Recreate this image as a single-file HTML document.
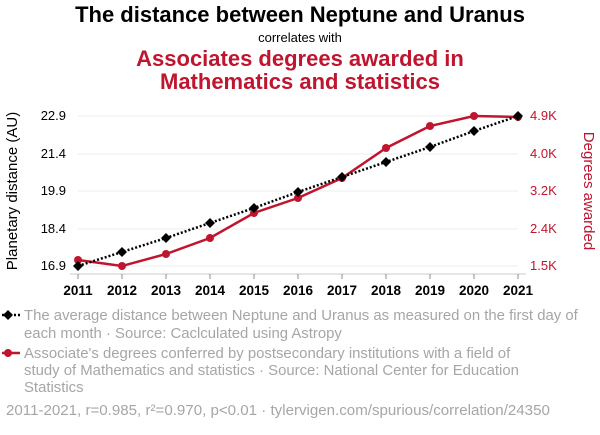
<!DOCTYPE html>
<html><head><meta charset="utf-8"><style>
body{margin:0;background:#fff;width:600px;height:430px;overflow:hidden;font-family:"Liberation Sans",sans-serif;}
</style></head><body>
<svg width="600" height="430" viewBox="0 0 600 430" xmlns="http://www.w3.org/2000/svg" font-family="Liberation Sans, sans-serif">
<text x="300" y="22" text-anchor="middle" font-size="22" font-weight="bold" fill="#000">The distance between Neptune and Uranus</text>
<text x="300" y="42" text-anchor="middle" font-size="13" fill="#000">correlates with</text>
<text x="300" y="66" text-anchor="middle" font-size="22" font-weight="bold" fill="#c0152f">Associates degrees awarded in</text>
<text x="300" y="89" text-anchor="middle" font-size="22" font-weight="bold" fill="#c0152f">Mathematics and statistics</text>
<g stroke="#eee" stroke-width="1">
<line x1="78" x2="518" y1="116" y2="116"/><line x1="78" x2="518" y1="154" y2="154"/><line x1="78" x2="518" y1="191" y2="191"/><line x1="78" x2="518" y1="229" y2="229"/><line x1="78" x2="518" y1="266" y2="266"/>
</g>
<line x1="70" x2="526" y1="274" y2="274" stroke="#ccc" stroke-width="1"/>
<g stroke="#888" stroke-width="1">
<line x1="78" x2="78" y1="274" y2="279"/><line x1="122" x2="122" y1="274" y2="279"/><line x1="166" x2="166" y1="274" y2="279"/><line x1="210" x2="210" y1="274" y2="279"/><line x1="254" x2="254" y1="274" y2="279"/><line x1="298" x2="298" y1="274" y2="279"/><line x1="342" x2="342" y1="274" y2="279"/><line x1="386" x2="386" y1="274" y2="279"/><line x1="430" x2="430" y1="274" y2="279"/><line x1="474" x2="474" y1="274" y2="279"/><line x1="518" x2="518" y1="274" y2="279"/>
</g>
<g font-size="13" fill="#000" text-anchor="end">
<text x="66" y="120">22.9</text><text x="66" y="158">21.4</text><text x="66" y="195">19.9</text><text x="66" y="233">18.4</text><text x="66" y="270">16.9</text>
</g>
<g font-size="13" fill="#c0152f">
<text x="530" y="120">4.9K</text><text x="530" y="158">4.0K</text><text x="530" y="195">3.2K</text><text x="530" y="233">2.4K</text><text x="530" y="270">1.5K</text>
</g>
<g font-size="13.5" fill="#000" text-anchor="middle" font-weight="bold">
<text x="78" y="295">2011</text><text x="122" y="295">2012</text><text x="166" y="295">2013</text><text x="210" y="295">2014</text><text x="254" y="295">2015</text><text x="298" y="295">2016</text><text x="342" y="295">2017</text><text x="386" y="295">2018</text><text x="430" y="295">2019</text><text x="474" y="295">2020</text><text x="518" y="295">2021</text>
</g>
<text transform="translate(17,191) rotate(-90)" text-anchor="middle" font-size="15" fill="#000">Planetary distance (AU)</text>
<text transform="translate(584,191) rotate(90)" text-anchor="middle" font-size="15" fill="#c0152f">Degrees awarded</text>
<polyline fill="none" stroke="#c0152f" stroke-width="2.5" points="78,260 122,266 166,254 210,238 254,213 298,198 342,178 386,148 430,126 474,116 518,117"/>
<g fill="#c0152f">
<circle cx="78" cy="260" r="4"/><circle cx="122" cy="266" r="4"/><circle cx="166" cy="254" r="4"/><circle cx="210" cy="238" r="4"/><circle cx="254" cy="213" r="4"/><circle cx="298" cy="198" r="4"/><circle cx="342" cy="178" r="4"/><circle cx="386" cy="148" r="4"/><circle cx="430" cy="126" r="4"/><circle cx="474" cy="116" r="4"/><circle cx="518" cy="117" r="4"/>
</g>
<polyline fill="none" stroke="#000" stroke-width="2.5" stroke-dasharray="2,2" points="78,266 122,252 166,238 210,223 254,208 298,192 342,177 386,162 430,147 474,131 518,116"/>
<g fill="#000">
<path d="M78 261l5 5-5 5-5-5z"/><path d="M122 247l5 5-5 5-5-5z"/><path d="M166 233l5 5-5 5-5-5z"/><path d="M210 218l5 5-5 5-5-5z"/><path d="M254 203l5 5-5 5-5-5z"/><path d="M298 187l5 5-5 5-5-5z"/><path d="M342 172l5 5-5 5-5-5z"/><path d="M386 157l5 5-5 5-5-5z"/><path d="M430 142l5 5-5 5-5-5z"/><path d="M474 126l5 5-5 5-5-5z"/><path d="M518 111l5 5-5 5-5-5z"/>
</g>
<line x1="2" x2="20" y1="315" y2="315" stroke="#000" stroke-width="2.5" stroke-dasharray="2,2"/>
<path d="M8 310l5 5-5 5-5-5z" fill="#000"/>
<line x1="2" x2="20" y1="353" y2="353" stroke="#c0152f" stroke-width="2.5"/>
<circle cx="8" cy="353" r="4" fill="#c0152f"/>
<g font-size="14.9" fill="#a6a6a6">
<text x="24" y="320">The average distance between Neptune and Uranus as measured on the first day of</text>
<text x="24" y="338">each month · Source: Caclculated using Astropy</text>
<text x="24" y="358">Associate's degrees conferred by postsecondary institutions with a field of</text>
<text x="24" y="375">study of Mathematics and statistics · Source: National Center for Education</text>
<text x="24" y="392">Statistics</text>
</g>
<text x="6" y="415" font-size="15.1" fill="#a6a6a6">2011-2021, r=0.985, r²=0.970, p&lt;0.01 · tylervigen.com/spurious/correlation/24350</text>
</svg>
</body></html>
